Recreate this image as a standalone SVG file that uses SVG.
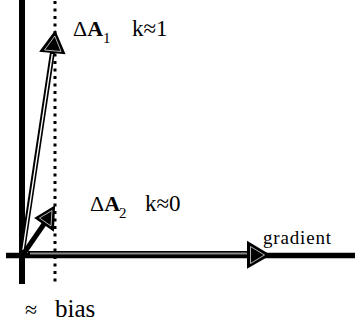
<svg xmlns="http://www.w3.org/2000/svg" width="355" height="331" viewBox="0 0 355 331">
<style>
.t{font-family:"Liberation Serif","Times New Roman",serif;fill:#000}
.axis{stroke:#000;fill:none}
.shaft{stroke:#000;stroke-width:5;fill:none}
.inner{stroke:#fff;stroke-width:1.4;fill:none}
.head{fill:#000;stroke:#000;stroke-width:2;stroke-linejoin:miter}
.headin{fill:none;stroke:#fff;stroke-width:0.7}
</style>
<rect width="355" height="331" fill="#fff"/>
<g id="axes">
<line class="axis" x1="22" y1="0" x2="22" y2="284" stroke-width="6"/>
<line class="axis" x1="6" y1="255.5" x2="355" y2="255.5" stroke-width="5.5"/>
<line class="axis" x1="55" y1="1" x2="55" y2="284" stroke-width="3" stroke-dasharray="3 4.5"/>
</g>
<g id="connectors">
<g id="arrowA1">
<line class="shaft" x1="22" y1="255" x2="52.5" y2="52"/>
<line class="inner" x1="23" y1="250" x2="52.3" y2="54"/>
<polygon class="head" points="55,32 41,51 64,53"/>
<polygon class="headin" points="54.8,36 44.5,50 61,51.5"/>
</g>
<g id="arrowA2">
<line class="shaft" x1="22" y1="256" x2="44" y2="224" stroke-width="4"/>
<polygon class="head" points="54,207 36,218 53,230"/>
<polygon class="headin" points="52,210.5 39.5,218 51,226"/>
</g>
<g id="arrowGrad">
<line class="shaft" x1="28" y1="253.5" x2="250" y2="253.5" stroke-width="6"/>
<line x1="30" y1="253.5" x2="250" y2="253.5" stroke="#888" stroke-width="2"/>
<polygon class="head" points="269,255 248,242.5 248,267"/>
<polygon class="headin" points="264.5,255 250.5,246.5 250.5,263.5"/>
</g>
</g>
<g id="labelA1">
<text class="t" x="73" y="36" font-size="22">Δ<tspan font-weight="bold">A</tspan></text>
<text class="t" x="103" y="43" font-size="15">1</text>
<text class="t" x="132" y="36" font-size="23">k≈1</text>
</g>
<g id="labelA2">
<text class="t" x="90" y="211" font-size="22">Δ<tspan font-weight="bold">A</tspan></text>
<text class="t" x="119" y="218" font-size="15">2</text>
<text class="t" x="145" y="211" font-size="23">k≈0</text>
</g>
<g id="labelGrad">
<text class="t" x="263" y="244" font-size="19" textLength="68" lengthAdjust="spacing">gradient</text>
</g>
<g id="labelBias">
<text class="t" x="25" y="317" font-size="22">≈</text>
<text class="t" x="55" y="317" font-size="25">bias</text>
</g>
</svg>
